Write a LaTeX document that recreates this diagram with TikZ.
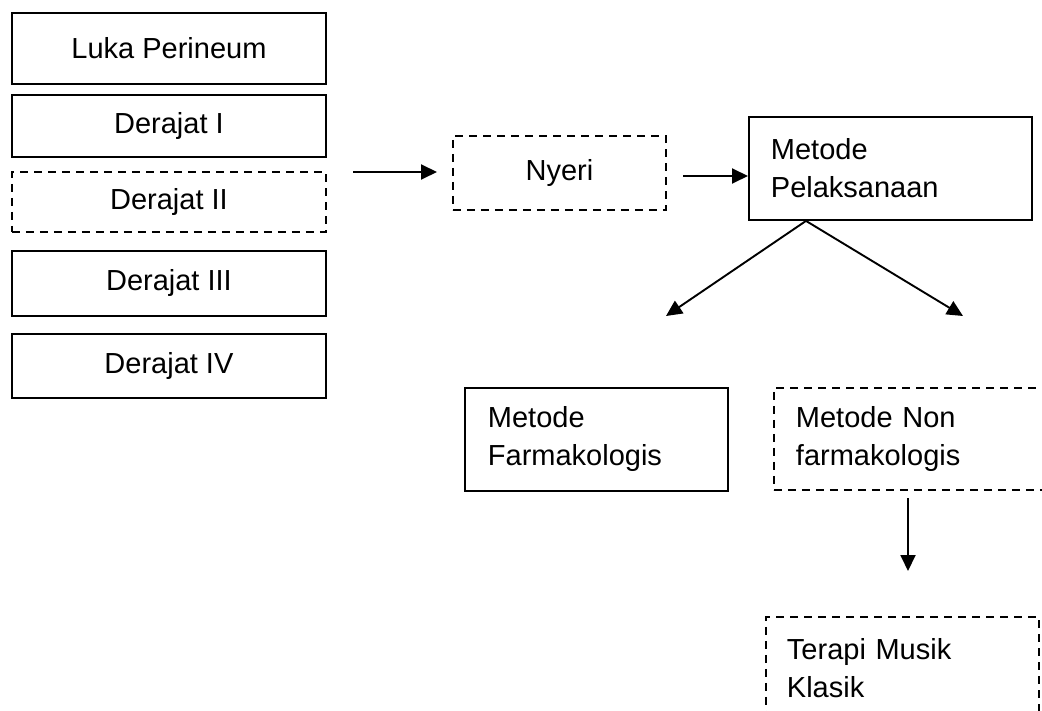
\documentclass[tikz,border=0pt]{standalone}
\usepackage{fontspec}
\setmainfont{Liberation Sans}
\usetikzlibrary{arrows.meta}
\newcommand\boxfont{\fontsize{29}{38}\selectfont}
\tikzset{
  box/.style={draw, line width=1.9pt, inner sep=0pt, anchor=north west, font=\boxfont, align=center},
  dbox/.style={box, dash pattern=on 8pt off 6pt},
  lbox/.style={align=left, inner xsep=#1, inner ysep=0pt},
  arr/.style={line width=1.9pt, -{Triangle[length=16pt,width=15pt]}},
}
\begin{document}
\begin{tikzpicture}[x=1pt,y=-1pt]
\useasboundingbox (0,0) rectangle (1042,711);
\clip (0,0) rectangle (1042,711);
% left column
\node[box, minimum width=314pt, minimum height=71pt] (luka) at (11,12) {Luka Perineum};
\node[box, minimum width=314pt, minimum height=62pt] (d1) at (11,94) {Derajat I};
\node[dbox, minimum width=314pt, minimum height=60pt] (d2) at (11,171) {Derajat II};
\node[box, minimum width=314pt, minimum height=65pt] (d3) at (11,250) {Derajat III};
\node[box, minimum width=314pt, minimum height=64pt] (d4) at (11,333) {Derajat IV};
% middle
\node[dbox, minimum width=213pt, minimum height=74pt] (nyeri) at (452,135) {Nyeri};
\node[box, lbox=22pt, text width=239pt, minimum width=283pt, minimum height=103pt] (pel) at (748,116) {Metode\\Pelaksanaan};
\node[box, lbox=23pt, text width=217pt, minimum width=263pt, minimum height=103pt] (farm) at (464,387) {Metode\\Farmakologis};
\node[dbox, lbox=22pt, text width=246pt, minimum width=290pt, minimum height=102pt] (nonf) at (773,387) {Metode Non\\farmakologis};
\node[dbox, lbox=21pt, text width=231pt, minimum width=273pt, minimum height=102pt] (terapi) at (765,616) {Terapi Musik\\Klasik};
% connectors
\coordinate (a1s) at (353,172);
\draw[arr, shorten >=15pt] (a1s) -- (a1s -| nyeri.west);
\coordinate (a2s) at (683,176);
\draw[arr] (a2s) -- (a2s -| pel.west);
\coordinate (apex) at (pel.south -| 806,0);
\coordinate (tipl) at (666,316);
\coordinate (tipr) at (963,316);
\draw[arr] (apex) -- (tipl);
\draw[arr] (apex) -- (tipr);
\coordinate (dns) at (908,498);
\coordinate (dne) at (908,571);
\draw[arr] (dns) -- (dne);
\end{tikzpicture}
\end{document}
